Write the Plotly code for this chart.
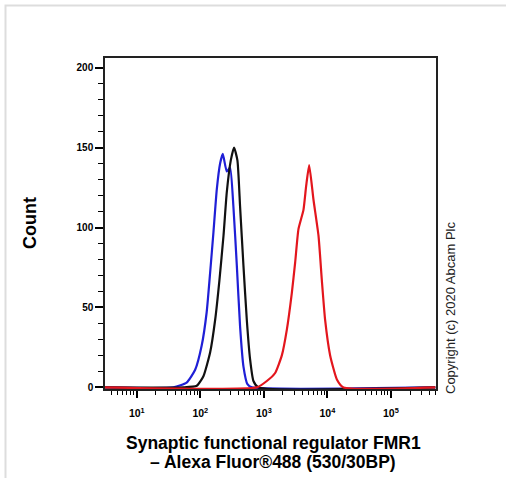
import plotly.graph_objects as go

# values (fluorescence intensity, count)
blue_x = [3, 37.7, 61, 83, 105, 126, 143, 161, 182, 205, 226, 261, 294, 332, 376, 423, 478, 552, 647, 5e5]
blue_y = [0, 0, 3, 11, 26, 47, 72, 97, 124, 140, 146, 135, 137.5, 113, 76, 38, 13, 2, 0, 0]

black_x = [3, 54, 88, 112, 143, 171, 200, 232, 261, 302, 340, 384, 423, 478, 540, 608, 686, 822, 5e5]
black_y = [0, 0, 1, 7, 22, 42, 67, 95, 122, 142, 150, 142, 113, 76, 42, 17.5, 4, 0, 0]

red_x = [3, 776, 1115, 1506, 1920, 2300, 2757, 3110, 3508, 4207, 4637, 5170, 6040, 7244, 8186, 9230, 11060, 14120, 17950, 5e5]
red_y = [0, 0, 4, 9, 20, 36, 59, 78, 99, 111, 126, 139, 117.5, 95, 67, 42, 20, 5, 0, 0]

x_ticks = [10, 100, 1000, 10000, 100000]
x_labels = ["10<sup>1</sup>", "10<sup>2</sup>", "10<sup>3</sup>", "10<sup>4</sup>", "10<sup>5</sup>"]
y_ticks = [0, 50, 100, 150, 200]

FONT = "Liberation Sans, Arial, sans-serif"

W, H = 506, 478
# plot box in window pixels
L, R, T, B = 105, 436, 58, 389
PW, PH = R - L, B - T


def px(x):
    return (x - L) / PW


def py(y):
    return (B - y) / PH


def main():
    fig = go.Figure()
    for xs, ys, col in [(blue_x, blue_y, "#1f1fd6"), (black_x, black_y, "#111111"), (red_x, red_y, "#e3161d")]:
        fig.add_trace(go.Scatter(x=xs, y=ys, mode="lines",
                                 line=dict(color=col, width=2.2, shape="spline", smoothing=0.5),
                                 hoverinfo="skip"))

    fig.update_layout(
        width=W, height=H,
        margin=dict(l=L, r=W - R, t=T, b=H - B, autoexpand=False),
        paper_bgcolor="white", plot_bgcolor="white",
        showlegend=False,
        font=dict(family=FONT, color="black"),
    )
    fig.update_xaxes(
        type="log", range=[0.5, 5.71], automargin=False,
        tickvals=x_ticks, ticktext=["<b>%s</b>" % t for t in x_labels],
        tickfont=dict(size=10.5, family=FONT), ticklabelstandoff=7,
        ticks="outside", ticklen=7, tickwidth=2, tickcolor="black",
        minor=dict(ticks="outside", ticklen=4, tickwidth=1, tickcolor="black", dtick="D1", showgrid=False),
        showline=True, linecolor="#222", linewidth=1.5, mirror=True,
        showgrid=False, zeroline=False,
    )
    fig.update_yaxes(
        range=[-1, 206], automargin=False,
        tickvals=y_ticks, ticktext=["<b>%d</b>" % v for v in y_ticks],
        tickfont=dict(size=10, family=FONT),
        ticks="outside", ticklen=8, tickwidth=2, tickcolor="black",
        minor=dict(ticks="outside", ticklen=5, tickwidth=1, tickcolor="black", dtick=10, showgrid=False),
        showline=True, linecolor="#222", linewidth=1.5, mirror=True,
        showgrid=False, zeroline=False,
    )
    # x title, two lines set a little tighter than plotly's own line height
    for txt, ypix in [("Synaptic functional regulator FMR1", 443), ("– Alexa Fluor®488 (530/30BP)", 462)]:
        fig.add_annotation(text="<b>%s</b>" % txt,
                           xref="paper", yref="paper", x=px(273), y=py(ypix),
                           xanchor="center", yanchor="middle", showarrow=False,
                           font=dict(size=17.5, family=FONT, color="black"))
    fig.add_annotation(text="<b>Count</b>", textangle=-90,
                       xref="paper", yref="paper", x=px(30), y=py(223),
                       xanchor="center", yanchor="middle", showarrow=False,
                       font=dict(size=18, family=FONT, color="black"))
    fig.add_annotation(text="Copyright (c) 2020 Abcam Plc", textangle=-90,
                       xref="paper", yref="paper", x=px(450), y=py(396),
                       xanchor="center", yanchor="bottom", showarrow=False,
                       font=dict(size=13, family=FONT, color="#222"))
    # light grey frame around the picture
    fig.add_shape(type="rect", xref="paper", yref="paper",
                  x0=px(5.5), x1=px(520), y0=py(520), y1=py(5.5),
                  line=dict(color="#dddddd", width=2), layer="below")
    # drop the page's default body margin so the figure sits at the window corner
    fig.write_html("out.html", config={"displayModeBar": False},
                   post_script="document.body.style.margin='0';")


if __name__ == '__main__':
    main()
